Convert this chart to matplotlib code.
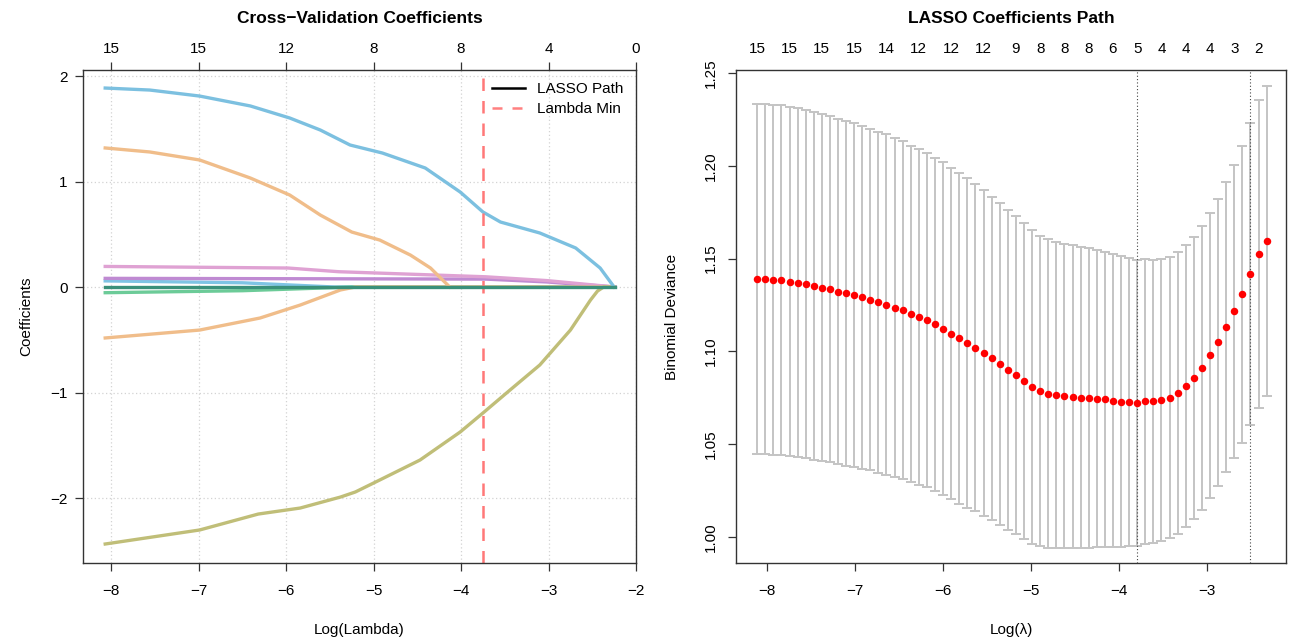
import numpy as np
import matplotlib.pyplot as plt

plt.rcParams['font.family'] = ['Liberation Sans', 'DejaVu Sans']
plt.rcParams['axes.unicode_minus'] = True

# ---- left panel: coefficient paths (log lambda, coefficient) ----
blue_x = [-8.07, -7.56, -6.99, -6.41, -5.96, -5.61, -5.27, -4.90, -4.41, -4.01, -3.75, -3.55, -3.10, -2.69, -2.41, -2.25]
blue_y = [1.886, 1.867, 1.810, 1.716, 1.602, 1.488, 1.346, 1.270, 1.128, 0.900, 0.711, 0.616, 0.512, 0.370, 0.180, 0.0]
orange_x = [-8.07, -7.56, -6.99, -6.41, -5.96, -5.61, -5.25, -4.93, -4.58, -4.35, -4.13]
orange_y = [1.318, 1.280, 1.204, 1.033, 0.872, 0.682, 0.521, 0.445, 0.303, 0.180, 0.0]
orange2_x = [-8.07, -6.99, -6.30, -5.84, -5.38, -5.21, -2.25]
orange2_y = [-0.483, -0.408, -0.294, -0.171, -0.028, 0.0, 0.0]
olive_x = [-8.07, -6.99, -6.32, -5.84, -5.38, -5.21, -4.93, -4.47, -4.01, -3.75, -3.44, -3.10, -2.75, -2.52, -2.44, -2.37, -2.25]
olive_y = [-2.436, -2.303, -2.152, -2.095, -1.991, -1.943, -1.829, -1.640, -1.374, -1.194, -0.976, -0.739, -0.408, -0.123, -0.038, 0.0, 0.0]
pink_x = [-8.07, -5.98, -5.40, -3.72, -3.02, -2.24]
pink_y = [0.195, 0.180, 0.145, 0.097, 0.061, 0.0]
purple_x = [-8.07, -3.72, -3.02, -2.24]
purple_y = [0.082, 0.075, 0.048, 0.0]
lblue_x = [-8.07, -6.5, -5.45, -2.24]
lblue_y = [0.058, 0.040, 0.0, 0.0]
green_x = [-8.07, -6.5, -5.25, -2.24]
green_y = [-0.054, -0.035, 0.0, 0.0]
flat_x = [-8.07, -2.24]
flat_y = [0.0, 0.0]
lambda_min_left = -3.75
top_left_ticks = [-8, -7, -6, -5, -4, -3, -2]
top_left_labels = ['15', '15', '12', '8', '8', '4', '0']

# ---- right panel: cross-validation curve ----
log_lambda = [-8.110, -8.018, -7.926, -7.834, -7.742, -7.651, -7.559, -7.467, -7.375, -7.283,
              -7.191, -7.099, -7.007, -6.915, -6.823, -6.732, -6.640, -6.548, -6.456, -6.364,
              -6.272, -6.180, -6.088, -5.996, -5.904, -5.813, -5.721, -5.629, -5.537, -5.445,
              -5.353, -5.261, -5.169, -5.077, -4.985, -4.894, -4.802, -4.710, -4.618, -4.526,
              -4.434, -4.342, -4.250, -4.158, -4.066, -3.975, -3.883, -3.791, -3.699, -3.607,
              -3.515, -3.423, -3.331, -3.239, -3.147, -3.056, -2.964, -2.872, -2.780, -2.688,
              -2.596, -2.504, -2.412, -2.320]
cvm = [1.1391, 1.1389, 1.1385, 1.1383, 1.1376, 1.1369, 1.1362, 1.1354, 1.1344, 1.1335,
       1.1322, 1.1313, 1.1304, 1.1291, 1.1278, 1.1265, 1.1251, 1.1236, 1.1222, 1.1204,
       1.1185, 1.1169, 1.1145, 1.1122, 1.1096, 1.1071, 1.1045, 1.1020, 1.0991, 1.0962,
       1.0933, 1.0900, 1.0871, 1.0840, 1.0809, 1.0787, 1.0773, 1.0765, 1.0760, 1.0756,
       1.0751, 1.0749, 1.0745, 1.0742, 1.0734, 1.0729, 1.0725, 1.0724, 1.0731, 1.0731,
       1.0736, 1.0751, 1.0776, 1.0813, 1.0856, 1.0913, 1.0978, 1.1049, 1.1131, 1.1215,
       1.1307, 1.1417, 1.1527, 1.1597]
cvsd = [0.0944, 0.0943, 0.0943, 0.0942, 0.0941, 0.0940, 0.0938, 0.0937, 0.0935, 0.0933,
        0.0931, 0.0928, 0.0925, 0.0922, 0.0919, 0.0919, 0.0918, 0.0915, 0.0909, 0.0905,
        0.0904, 0.0898, 0.0899, 0.0896, 0.0893, 0.0891, 0.0888, 0.0882, 0.0878, 0.0872,
        0.0868, 0.0864, 0.0857, 0.0852, 0.0846, 0.0837, 0.0831, 0.0826, 0.0820, 0.0815,
        0.0810, 0.0806, 0.0801, 0.0796, 0.0789, 0.0783, 0.0776, 0.0771, 0.0767, 0.0763,
        0.0760, 0.0757, 0.0759, 0.0760, 0.0760, 0.0765, 0.0767, 0.0774, 0.0781, 0.0788,
        0.0798, 0.0815, 0.0830, 0.0835]
lambda_min = -3.791
lambda_1se = -2.504
nz_index = [0, 4, 8, 12, 16, 20, 24, 28, 32, 35, 38, 41, 44, 47, 50, 53, 56, 59, 62]
nz_labels = ['15', '15', '15', '15', '14', '12', '12', '12', '9', '8', '8', '8', '6', '5', '4', '4', '4', '3', '2']

W, H = 1303, 643
fig = plt.figure(figsize=(W / 100, H / 100), dpi=100)
ax1 = fig.add_axes([83 / W, 80 / H, 553 / W, 493 / H])
ax2 = fig.add_axes([736 / W, 80 / H, 550 / W, 493 / H])


def r_style(ax, rotate_y=True):
    for s in ax.spines.values():
        s.set_color('#333333')
        s.set_linewidth(1.0)
    ax.tick_params(direction='out', length=6, width=0.9, color='#333333', labelsize=11, pad=5)
    ax.tick_params(axis='x', pad=9)
    if rotate_y:
        for lab in ax.get_yticklabels():
            lab.set_rotation(90)
            lab.set_va('center')


# left panel
ax1.set_xlim(-8.324, -2.0)
ax1.set_ylim(-2.616, 2.057)
ax1.set_xticks([-8, -7, -6, -5, -4, -3, -2])
ax1.set_yticks([-2, -1, 0, 1, 2])
ax1.grid(True, color='#d3d3d3', linestyle=(0, (1, 2)), linewidth=0.9)
lw = 2.4
ax1.plot(lblue_x, lblue_y, color='#7FC4E4', lw=lw)
ax1.plot(green_x, green_y, color='#6CCB98', lw=lw)
ax1.plot(purple_x, purple_y, color='#BF8AD2', lw=lw)
ax1.plot(pink_x, pink_y, color='#DFA2D3', lw=lw)
ax1.plot(orange2_x, orange2_y, color='#F0BD8A', lw=lw)
ax1.plot(orange_x, orange_y, color='#F0BD8A', lw=lw)
ax1.plot(olive_x, olive_y, color='#C0BE78', lw=lw)
ax1.plot(blue_x, blue_y, color='#7CC0E0', lw=lw)
ax1.plot(flat_x, flat_y, color='#3A907A', lw=lw, zorder=3)
ax1.axvline(lambda_min_left, color='#FF7878', lw=1.8, ls=(0, (5, 4)))
ax1.plot([], [], color='black', lw=1.8, label='LASSO Path')
ax1.plot([], [], color='#FF8080', lw=1.8, ls=(0, (4, 4)), label='Lambda Min')
ax1.legend(loc='upper right', frameon=False, fontsize=11, handlelength=2.2,
           borderaxespad=0.4, labelspacing=0.4, handletextpad=0.8)
ax1.set_xlabel('Log(Lambda)', fontsize=11, labelpad=18)
ax1.set_ylabel('Coefficients', fontsize=11, labelpad=12)
r_style(ax1, rotate_y=False)
top1 = ax1.secondary_xaxis('top')
top1.set_xticks(top_left_ticks, top_left_labels)
top1.tick_params(direction='out', length=6, width=0.9, color='#333333', labelsize=11, pad=4)
top1.spines['top'].set_visible(False)
ax1.set_title('Cross\u2212Validation Coefficients', fontsize=12.5, fontweight='bold', pad=34)

# right panel
ax2.set_xlim(-8.35, -2.10)
ax2.set_ylim(0.986, 1.2516)
ax2.set_xticks([-8, -7, -6, -5, -4, -3])
ax2.set_yticks([1.00, 1.05, 1.10, 1.15, 1.20, 1.25])
ax2.set_yticklabels(['1.00', '1.05', '1.10', '1.15', '1.20', '1.25'])
ax2.errorbar(log_lambda, cvm, yerr=cvsd, fmt='none', ecolor='#C4C4C4',
             elinewidth=1.4, capsize=3.6, capthick=1.4, zorder=2)
ax2.plot(log_lambda, cvm, 'o', color='red', markersize=5.4, markeredgewidth=0, zorder=3)
ax2.axvline(lambda_min, color='#444444', lw=0.8, ls=(0, (1, 2)))
ax2.axvline(lambda_1se, color='#444444', lw=0.8, ls=(0, (1, 2)))
ax2.set_xlabel('Log(\u03bb)', fontsize=11, labelpad=18)
ax2.set_ylabel('Binomial Deviance', fontsize=11, labelpad=18)
r_style(ax2)
ax2.tick_params(axis='y', pad=7)
top2 = ax2.secondary_xaxis('top')
top2.set_xticks([log_lambda[i] for i in nz_index], nz_labels)
top2.tick_params(length=0, labelsize=11, pad=10)
top2.spines['top'].set_visible(False)
ax2.set_title('LASSO Coefficients Path', fontsize=12.5, fontweight='bold', pad=34)

fig.savefig('out.png', dpi=100)
